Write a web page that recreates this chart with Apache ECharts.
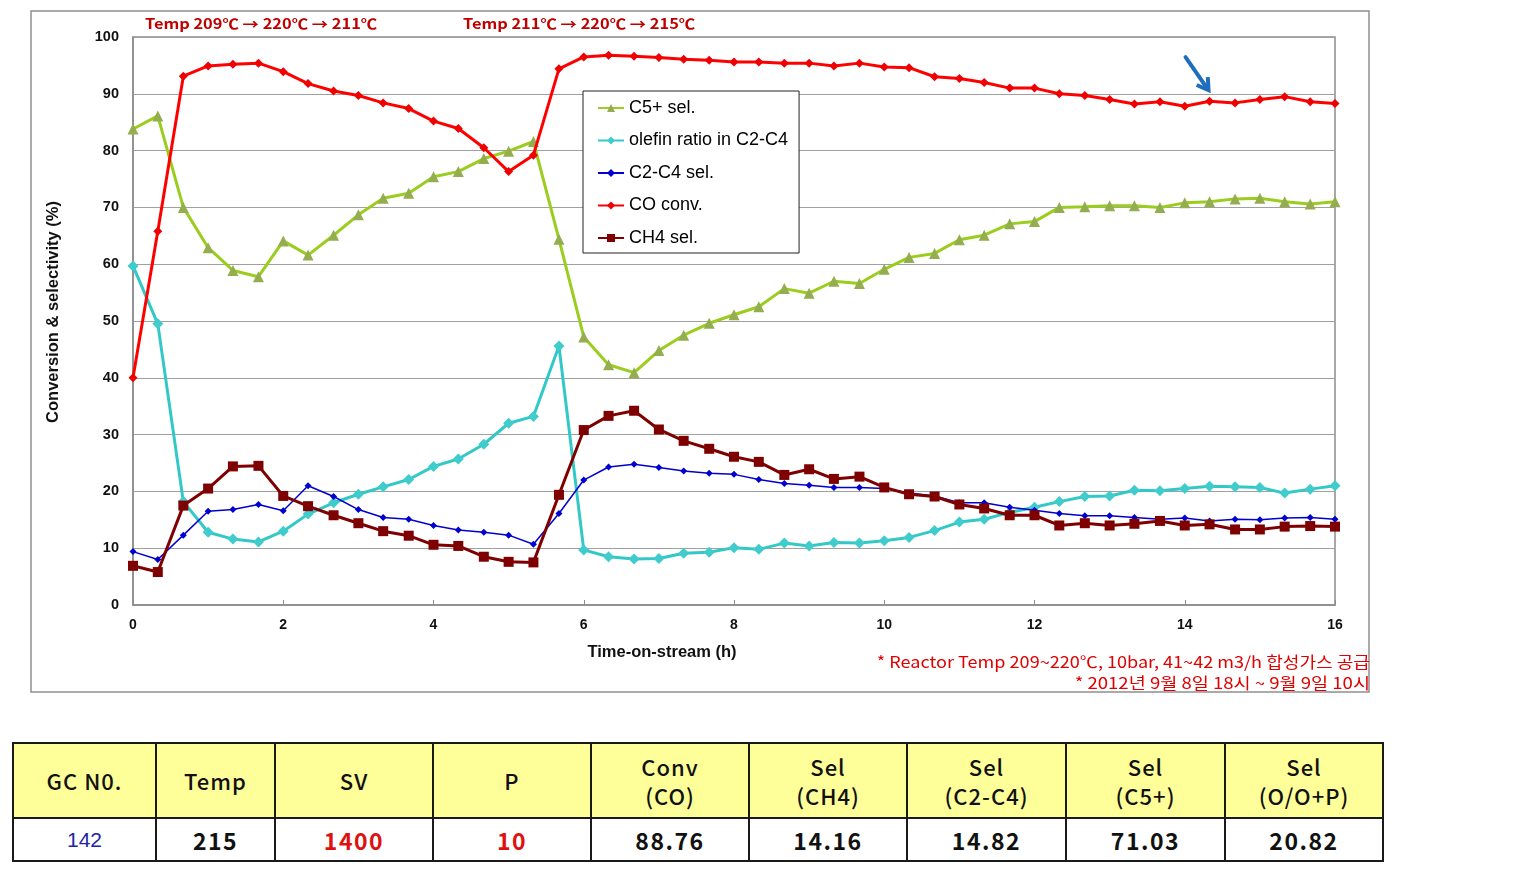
<!DOCTYPE html>
<html>
<head>
<meta charset="utf-8">
<script src="https://cdn.jsdelivr.net/npm/echarts@6/dist/echarts.min.js"></script>
<style>
  html, body { margin: 0; padding: 0; background: #fff; }
  #chart { position: absolute; left: 0; top: 0; width: 1513px; height: 720px; }
  #tbl { position: absolute; left: 12px; top: 742px; width: 1370px; border-collapse: collapse; table-layout: fixed;
         font-family: "Noto Sans CJK KR", "Noto Sans", sans-serif; }
  #tbl td { border: 2px solid #1a1a1a; text-align: center; padding: 0; overflow: hidden; }
  #tbl tr.h td { background: #ffff99; height: 73px; font-size: 22px; font-weight: 500; line-height: 29px; white-space: pre-line; color: #111; letter-spacing: 1px; }
  #tbl tr.d td { background: #fff; height: 41px; font-size: 23px; font-weight: 700; color: #111; letter-spacing: 1.5px; }
</style>
</head>
<body>
<div id="chart"></div>
<table id="tbl"><colgroup></colgroup><tr class="h"></tr><tr class="d"></tr></table>
<script>
// ---- data ----
const hours = [0,0.33,0.67,1,1.33,1.67,2,2.33,2.67,3,3.33,3.67,4,4.33,4.67,5,5.33,5.67,6,6.33,6.67,7,7.33,7.67,8,8.33,8.67,9,9.33,9.67,10,10.33,10.67,11,11.33,11.67,12,12.33,12.67,13,13.33,13.67,14,14.33,14.67,15,15.33,15.67,16];
const c5Sel = [83.8,86.1,70.0,62.9,58.9,57.8,64.1,61.6,65.1,68.7,71.6,72.5,75.4,76.3,78.6,79.9,81.6,64.4,47.2,42.3,40.9,44.8,47.5,49.6,51.1,52.5,55.7,54.9,57.0,56.6,59.1,61.2,61.9,64.3,65.1,67.1,67.5,70.0,70.1,70.3,70.3,70.0,70.8,71.0,71.5,71.6,71.0,70.6,71.0];
const olefinRatio = [59.7,49.5,18.2,12.8,11.6,11.1,13.0,16.0,18.0,19.5,20.8,22.1,24.4,25.7,28.3,32.0,33.2,45.6,9.7,8.5,8.1,8.2,9.1,9.3,10.1,9.8,10.9,10.4,11.0,10.9,11.3,11.9,13.1,14.6,15.1,16.3,17.2,18.2,19.1,19.2,20.2,20.1,20.5,20.9,20.8,20.7,19.7,20.4,21.0];
const c2c4Sel = [9.4,8.0,12.3,16.5,16.8,17.7,16.6,21.0,19.1,16.8,15.4,15.1,14.0,13.2,12.8,12.3,10.7,16.1,22.0,24.3,24.8,24.2,23.6,23.2,23.0,22.1,21.4,21.1,20.7,20.7,20.5,19.7,19.2,18.0,18.0,17.2,16.7,16.1,15.7,15.7,15.4,15.1,15.3,14.8,15.1,15.0,15.3,15.4,15.1];
const coConv = [40.0,65.8,93.1,94.9,95.2,95.4,93.9,91.8,90.5,89.7,88.4,87.4,85.2,83.9,80.5,76.3,79.2,94.4,96.5,96.8,96.6,96.4,96.1,95.9,95.6,95.6,95.4,95.4,94.9,95.4,94.7,94.6,93.0,92.7,92.0,91.0,91.0,90.0,89.7,89.0,88.2,88.6,87.8,88.7,88.4,89.0,89.5,88.6,88.3];
const ch4Sel = [6.9,5.8,17.5,20.5,24.4,24.5,19.2,17.4,15.8,14.4,13.0,12.2,10.6,10.4,8.5,7.6,7.5,19.4,30.8,33.3,34.2,30.9,28.9,27.5,26.1,25.2,22.9,23.9,22.2,22.6,20.7,19.5,19.1,17.7,17.0,15.8,15.8,14.0,14.4,14.0,14.3,14.8,14.0,14.2,13.3,13.3,13.8,13.9,13.8];
const seriesNames = ['C5+ sel.', 'olefin ratio in C2-C4', 'C2-C4 sel.', 'CO conv.', 'CH4 sel.'];
const xAxisTitle = 'Time-on-stream (h)';
const yAxisTitle = 'Conversion & selectivity (%)';
const tempNote1 = 'Temp 209℃ → 220℃ → 211℃';
const tempNote2 = 'Temp 211℃ → 220℃ → 215℃';
const footNote1 = '* Reactor Temp 209~220℃, 10bar, 41~42 m3/h 합성가스 공급';
const footNote2 = '* 2012년 9월 8일 18시 ~ 9월 9일 10시';
const arrowTarget = [14.33, 88.7];
const tableHeaders = ['GC N0.', 'Temp', 'SV', 'P', 'Conv\n(CO)', 'Sel\n(CH4)', 'Sel\n(C2-C4)', 'Sel\n(C5+)', 'Sel\n(O/O+P)'];
const tableValues = ['142', '215', '1400', '10', '88.76', '14.16', '14.82', '71.03', '20.82'];

// ---- styles ----
const colWidths = [143,119,158,158,158,158,159,159,158];
const valueColors = ['#2323a8', '#111', '#e01010', '#e01010', '#111', '#111', '#111', '#111', '#111'];

const cg = document.querySelector('#tbl colgroup');
colWidths.forEach(w => { const c = document.createElement('col'); c.style.width = w + 'px'; cg.appendChild(c); });
const hr = document.querySelector('#tbl tr.h'), dr = document.querySelector('#tbl tr.d');
tableHeaders.forEach((t, i) => { const td = document.createElement('td'); td.textContent = t; hr.appendChild(td); });
tableValues.forEach((t, i) => { const td = document.createElement('td'); td.textContent = t; td.style.color = valueColors[i];
  if (i === 0) { td.style.fontWeight = '400'; td.style.fontSize = '21px'; td.style.letterSpacing = '0px'; td.style.fontFamily = 'Liberation Sans, sans-serif'; } dr.appendChild(td); });

const pair = arr => hours.map((h, i) => [h, arr[i]]);
const chart = echarts.init(document.getElementById('chart'));
const axisFont = 'Liberation Sans, Arial, sans-serif';
chart.setOption({
  animation: false,
  grid: { left: 133, top: 37, width: 1202, height: 568, show: true, borderColor: '#8c8c8c', borderWidth: 1.5, backgroundColor: 'transparent' },
  xAxis: {
    type: 'value', min: 0, max: 16, interval: 2,
    name: xAxisTitle, nameLocation: 'middle', nameGap: 39,
    nameTextStyle: { fontFamily: axisFont, fontSize: 16.5, fontWeight: 'bold', color: '#111', padding: [0, 144, 0, 0] },
    axisLine: { lineStyle: { color: '#8c8c8c', width: 1.5 } },
    axisTick: { show: true, inside: true, length: 5, lineStyle: { color: '#8c8c8c' } },
    axisLabel: { fontFamily: axisFont, fontSize: 14, fontWeight: 'bold', color: '#111', margin: 13 },
    splitLine: { show: false }
  },
  yAxis: {
    type: 'value', min: 0, max: 100, interval: 10,
    name: yAxisTitle, nameLocation: 'middle', nameGap: 71, nameRotate: 90,
    nameTextStyle: { fontFamily: axisFont, fontSize: 16.5, fontWeight: 'bold', color: '#111', padding: [0, 0, 0, 18] },
    axisLine: { show: true, lineStyle: { color: '#8c8c8c', width: 1.5 } },
    axisTick: { show: false },
    axisLabel: { fontFamily: axisFont, fontSize: 14.5, fontWeight: 'bold', color: '#111', margin: 14 },
    splitLine: { lineStyle: { color: '#a0a0a0', width: 1.2 } }
  },
  legend: {
    orient: 'vertical', left: 583, top: 91,
    backgroundColor: '#fff', borderColor: '#222', borderWidth: 1,
    padding: [8, 11, 6, 14], itemGap: 14.5, itemWidth: 26, itemHeight: 10,
    textStyle: { fontFamily: axisFont, fontSize: 18, color: '#000' },
    data: seriesNames
  },
  series: [
    { name: seriesNames[0], type: 'line', data: pair(c5Sel), symbol: 'triangle', symbolSize: 11,
      lineStyle: { color: '#9acd1e', width: 3 }, itemStyle: { color: '#93ad4f' }, z: 2 },
    { name: seriesNames[1], type: 'line', data: pair(olefinRatio), symbol: 'diamond', symbolSize: 11,
      lineStyle: { color: '#33c8c8', width: 3 }, itemStyle: { color: '#40cccc' }, z: 3 },
    { name: seriesNames[2], type: 'line', data: pair(c2c4Sel), symbol: 'diamond', symbolSize: 7,
      lineStyle: { color: '#0000d0', width: 1.5 }, itemStyle: { color: '#0000d0' }, z: 4 },
    { name: seriesNames[3], type: 'line', data: pair(coConv), symbol: 'diamond', symbolSize: 9,
      lineStyle: { color: '#ff0000', width: 3 }, itemStyle: { color: '#ee0000' }, z: 5 },
    { name: seriesNames[4], type: 'line', data: pair(ch4Sel), symbol: 'rect', symbolSize: 10,
      lineStyle: { color: '#7f0000', width: 3 }, itemStyle: { color: '#7f0000' }, z: 6 }
  ]
});

const p = chart.convertToPixel({ xAxisIndex: 0, yAxisIndex: 0 }, arrowTarget);
const tip = [p[0] - 1, p[1] - 11], tail = [p[0] - 24, p[1] - 44];
const dx = tip[0] - tail[0], dy = tip[1] - tail[1], L = Math.hypot(dx, dy);
const ux = dx / L, uy = dy / L, hl = 13, ang = 0.55;
const rot = (a) => [-(ux * Math.cos(a) - uy * Math.sin(a)) * hl, -(ux * Math.sin(a) + uy * Math.cos(a)) * hl];
const h1 = rot(ang), h2 = rot(-ang);
const noteFont = '"Noto Sans CJK KR", sans-serif';
chart.setOption({
  graphic: [
    { type: 'rect', shape: { x: 31, y: 11, width: 1338, height: 681 }, style: { fill: 'none', stroke: '#8f8f8f', lineWidth: 1.5 }, silent: true, z: -1 },
    { type: 'text', x: 145, y: 24, scaleX: 1.17, style: { text: tempNote1, font: 'bold 14px ' + noteFont, fill: '#c00000', textVerticalAlign: 'middle' } },
    { type: 'text', x: 463, y: 24, scaleX: 1.17, style: { text: tempNote2, font: 'bold 14px ' + noteFont, fill: '#c00000', textVerticalAlign: 'middle' } },
    { type: 'text', x: 1370, y: 662, scaleX: 1.13, style: { text: footNote1, font: '16px ' + noteFont, fill: '#e00000', textAlign: 'right', textVerticalAlign: 'middle' } },
    { type: 'text', x: 1370, y: 683, scaleX: 1.16, style: { text: footNote2, font: '16px ' + noteFont, fill: '#e00000', textAlign: 'right', textVerticalAlign: 'middle' } },
    { type: 'line', shape: { x1: tail[0], y1: tail[1], x2: tip[0] - ux * 2, y2: tip[1] - uy * 2 }, style: { stroke: '#1f6dbd', lineWidth: 4, lineCap: 'round' }, z: 10 },
    { type: 'polyline', shape: { points: [[tip[0] + h1[0], tip[1] + h1[1]], tip, [tip[0] + h2[0], tip[1] + h2[1]]] }, style: { stroke: '#1f6dbd', lineWidth: 4, fill: 'none', lineJoin: 'miter' }, z: 10 }
  ]
});
</script>
</body>
</html>
